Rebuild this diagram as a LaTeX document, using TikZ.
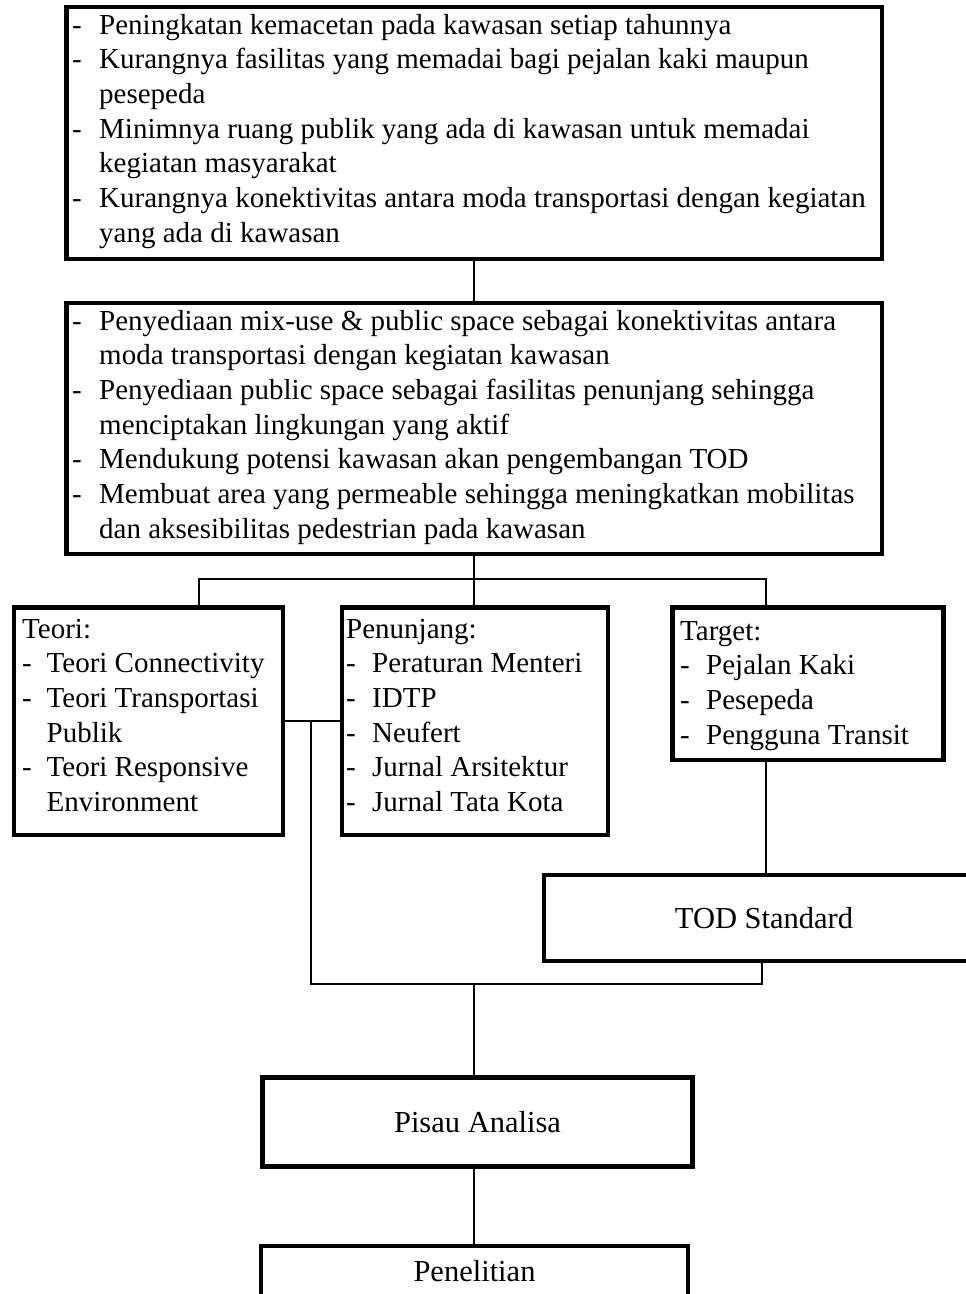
\documentclass[tikz,border=0pt]{standalone}
\usepackage{fontspec}
\setmainfont{Liberation Serif}
\usepackage{array}
\begin{document}
\begin{tikzpicture}[x=1pt,y=-1pt,
  box/.style={draw,line width=4.5pt,inner sep=0pt,font=\fontsize{30.5}{36}\selectfont},
  wire/.style={line width=1.8pt},
  txt/.style={inner sep=0pt,anchor=base west,font=\fontsize{29}{34.7}\selectfont}]
\clip (0,0) rectangle (966,1294);
% boxes
\node[box,minimum width=815.5pt,minimum height=252pt] (b1) at (474.25,133) {};
\node[box,minimum width=815.5pt,minimum height=251pt] (b2) at (474.25,428.5) {};
\node[box,minimum width=269pt,minimum height=227.5pt] (teori) at (148.5,721.25) {};
\node[box,minimum width=266pt,minimum height=227.5pt] (penunjang) at (475,721.25) {};
\node[box,minimum width=271pt,minimum height=152.5pt] (target) at (808,683.75) {};
\node[box,minimum width=440pt,minimum height=86pt] (tod) at (764,918) {TOD Standard};
\node[box,minimum width=430pt,minimum height=89pt] (pisau) at (477.5,1122) {Pisau Analisa};
\node[box,minimum width=427pt,minimum height=50pt] (penelitian) at (474.5,1271) {Penelitian};
% texts
\node[txt] (t1) at (72,34) {\begin{tabular}[t]{@{}p{27pt}@{}l@{}}
- & Peningkatan kemacetan pada kawasan setiap tahunnya\\
- & Kurangnya fasilitas yang memadai bagi pejalan kaki maupun\\
  & pesepeda\\
- & Minimnya ruang publik yang ada di kawasan untuk memadai\\
  & kegiatan masyarakat\\
- & Kurangnya konektivitas antara moda transportasi dengan kegiatan\\
  & yang ada di kawasan
\end{tabular}};
\node[txt] (t2) at (72,330) {\begin{tabular}[t]{@{}p{27pt}@{}l@{}}
- & Penyediaan mix-use \& public space sebagai konektivitas antara\\
  & moda transportasi dengan kegiatan kawasan\\
- & Penyediaan public space sebagai fasilitas penunjang sehingga\\
  & menciptakan lingkungan yang aktif\\
- & Mendukung potensi kawasan akan pengembangan TOD\\
- & Membuat area yang permeable sehingga meningkatkan mobilitas\\
  & dan aksesibilitas pedestrian pada kawasan
\end{tabular}};
\node[txt] (t3) at (22,638) {\begin{tabular}[t]{@{}p{24.5pt}@{}l@{}}
\multicolumn{2}{@{}l@{}}{Teori:}\\
- & Teori Connectivity\\
- & Teori Transportasi\\
  & Publik\\
- & Teori Responsive\\
  & Environment
\end{tabular}};
\node[txt] (t4) at (346,638) {\begin{tabular}[t]{@{}p{26pt}@{}l@{}}
\multicolumn{2}{@{}l@{}}{Penunjang:}\\
- & Peraturan Menteri\\
- & IDTP\\
- & Neufert\\
- & Jurnal Arsitektur\\
- & Jurnal Tata Kota
\end{tabular}};
\node[txt] (t5) at (680,640) {\begin{tabular}[t]{@{}p{26pt}@{}l@{}}
\multicolumn{2}{@{}l@{}}{Target:}\\
- & Pejalan Kaki\\
- & Pesepeda\\
- & Pengguna Transit
\end{tabular}};
% connectors
\draw[wire] (b1.south) -- (b2.north);
\coordinate (j1) at (474.25,579);
\coordinate (tL) at (199,579);
\coordinate (tR) at (766,579);
\draw[wire] (b2.south) -- (j1);
\draw[wire] (tL |- teori.north) -- (tL) -- (tR) -- (tR |- target.north);
\draw[wire] (j1) -- (j1 |- penunjang.north);
\draw[wire] (teori.east) -- (penunjang.west);
\coordinate (v1) at (311,721.25);
\coordinate (v2) at (311,984);
\coordinate (v3) at (762,984);
\draw[wire] (v1) -- (v2) -- (v3) -- (v3 |- tod.south);
\draw[wire] (tR |- target.south) -- (tR |- tod.north);
\coordinate (j2) at (474,984);
\draw[wire] (j2) -- (j2 |- pisau.north);
\draw[wire] (j2 |- pisau.south) -- (j2 |- penelitian.north);
\end{tikzpicture}
\end{document}
